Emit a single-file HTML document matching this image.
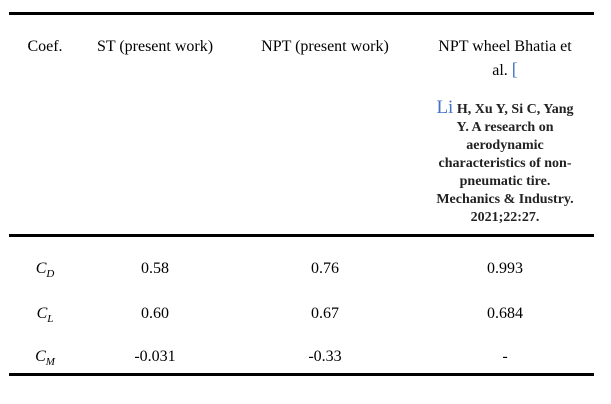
<!DOCTYPE html>
<html><head><meta charset="utf-8"><style>
body{margin:0;width:611px;height:404px;background:#fff;position:relative;overflow:hidden;font-family:"Liberation Serif",serif;color:#000}
.r{position:absolute;height:3px;background:#000;left:9px;width:585px}
.t{position:absolute;font-size:16px;white-space:nowrap;transform:translateX(-50%);line-height:18px}
.ref{position:absolute;left:505px;transform:translateX(-50%);top:99px;width:200px;text-align:center;font-size:14px;font-weight:bold;line-height:18px;color:#222;white-space:nowrap}
.ref .li{color:#4472c4;font-weight:normal;font-size:19px}
i sub{font-size:11px}
</style></head><body>
<div class="r" style="top:12px"></div>
<div class="r" style="top:234px"></div>
<div class="r" style="top:373px"></div>
<div class="t" style="left:45px;top:38px">Coef.</div>
<div class="t" style="left:155px;top:38px">ST (present work)</div>
<div class="t" style="left:325px;top:38px">NPT (present work)</div>
<div class="t" style="left:505px;top:38px">NPT wheel Bhatia et</div>
<div class="t" style="left:505px;top:60px">al. <span style="color:#4472c4;font-size:18px">[</span></div>
<div class="ref"><span class="li">Li</span> H, Xu Y, Si C, Yang<br>Y. A research on<br>aerodynamic<br>characteristics of non-<br>pneumatic tire.<br>Mechanics &amp; Industry.<br>2021;22:27.</div>
<div class="t" style="left:45px;top:260px"><i>C<sub>D</sub></i></div>
<div class="t" style="left:155px;top:260px">0.58</div>
<div class="t" style="left:325px;top:260px">0.76</div>
<div class="t" style="left:505px;top:260px">0.993</div>
<div class="t" style="left:45px;top:305px"><i>C<sub>L</sub></i></div>
<div class="t" style="left:155px;top:305px">0.60</div>
<div class="t" style="left:325px;top:305px">0.67</div>
<div class="t" style="left:505px;top:305px">0.684</div>
<div class="t" style="left:45px;top:348px"><i>C<sub>M</sub></i></div>
<div class="t" style="left:155px;top:348px">-0.031</div>
<div class="t" style="left:325px;top:348px">-0.33</div>
<div class="t" style="left:505px;top:348px">-</div>
</body></html>
